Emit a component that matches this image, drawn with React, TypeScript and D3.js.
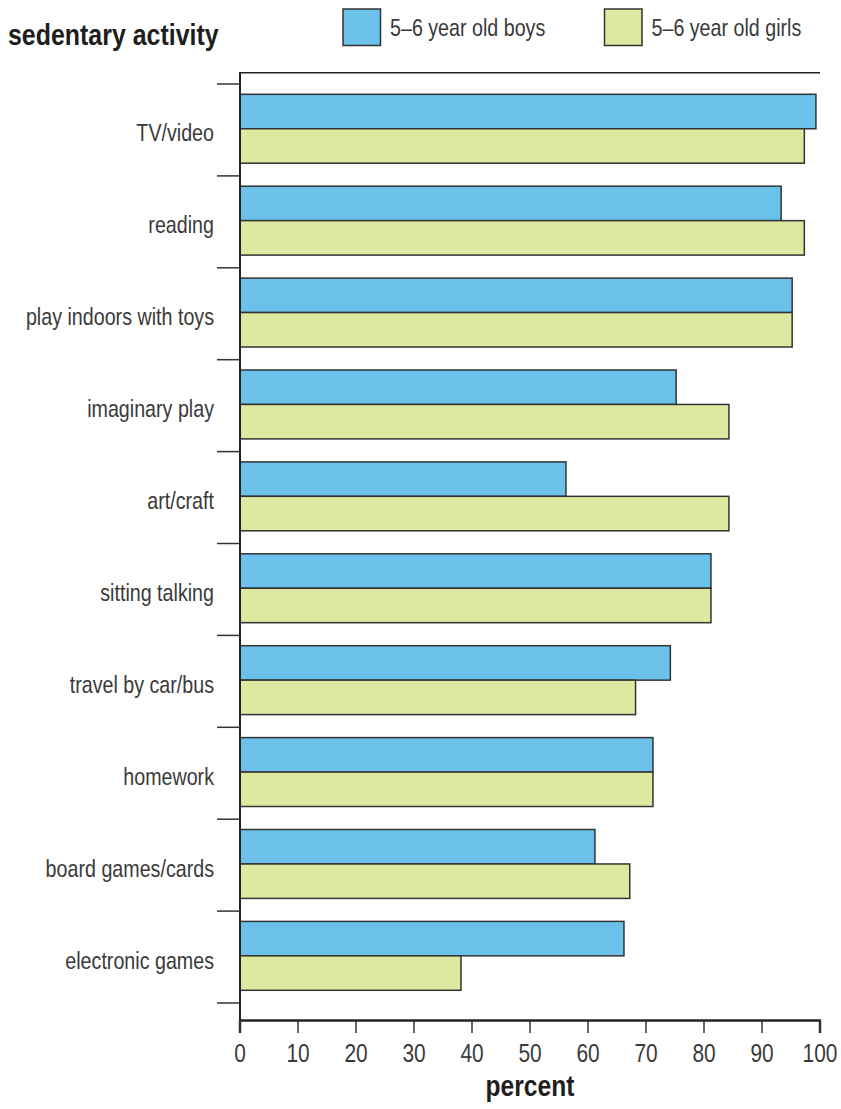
import React from "react";
import * as d3 from "d3";

const categories = [
  "TV/video",
  "reading",
  "play indoors with toys",
  "imaginary play",
  "art/craft",
  "sitting talking",
  "travel by car/bus",
  "homework",
  "board games/cards",
  "electronic games",
];
const boys = [99.3, 93.3, 95.2, 75.2, 56.2, 81.2, 74.2, 71.2, 61.2, 66.2];
const girls = [97.3, 97.3, 95.2, 84.3, 84.3, 81.2, 68.2, 71.2, 67.2, 38.1];
const seriesNames = ["5\u20136 year old boys", "5\u20136 year old girls"];
const seriesColors = ["#6bc1ea", "#dde8a1"];
const xTicks = [0, 10, 20, 30, 40, 50, 60, 70, 80, 90, 100];

const W = 841;
const H = 1109;
const X0 = 240;
const X1 = 820;
const TOP = 72.7;
const BOTTOM = 1020.5;
const sans = "'Liberation Sans', Arial, sans-serif";
const SQUEEZE = 0.82;

function NText(props: {
  x: number;
  y: number;
  size: number;
  anchor?: "start" | "middle" | "end";
  bold?: boolean;
  fill?: string;
  squeeze?: number;
  children: React.ReactNode;
}) {
  const s = props.squeeze ?? SQUEEZE;
  return (
    <text
      transform={`translate(${props.x},${props.y}) scale(${s},1)`}
      textAnchor={props.anchor ?? "start"}
      fontFamily={sans}
      fontWeight={props.bold ? "bold" : "normal"}
      fontSize={props.size}
      fill={props.fill ?? "#3a3a3a"}
    >
      {props.children}
    </text>
  );
}

export default function App() {
  const x = d3.scaleLinear().domain([0, 100]).range([X0, X1]);
  const y = d3.scaleBand<string>().domain(categories).range([84, 1003]).padding(0);
  const step = y.bandwidth();
  const inner = d3.scaleBand<string>().domain(["boys", "girls"]).range([10.3, 79.2]).padding(0);
  const series = [boys, girls];
  const keys = ["boys", "girls"];
  const boundaries = d3.range(categories.length + 1).map((i) => 84 + i * step);

  return (
    <svg width={W} height={H} style={{ position: "absolute", left: 0, top: 0, background: "#fff" }}>
      {/* title */}
      <NText x={8} y={45} size={29} bold squeeze={0.86} fill="#1e1e1e">
        sedentary activity
      </NText>
      {/* legend */}
      {seriesNames.map((n, i) => {
        const lx = i === 0 ? 343 : 604.5;
        return (
          <g key={n}>
            <rect x={lx} y={9} width={37.5} height={36.5} fill={seriesColors[i]} stroke="#333" strokeWidth={1.5} />
            <NText x={lx + 47} y={36} size={24}>
              {n}
            </NText>
          </g>
        );
      })}
      {/* bars */}
      {categories.map((c, ci) => (
        <g key={c}>
          {series.map((s, si) => (
            <rect
              key={si}
              x={x(0)}
              y={(y(c) as number) + (inner(keys[si]) as number)}
              width={x(s[ci]) - x(0)}
              height={inner.bandwidth()}
              fill={seriesColors[si]}
              stroke="#333"
              strokeWidth={1.5}
            />
          ))}
          <NText x={214} y={(y(c) as number) + step / 2 + 11.5} size={24} anchor="end">
            {c}
          </NText>
        </g>
      ))}
      {/* top frame line */}
      <line x1={X0} x2={X1} y1={TOP} y2={TOP} stroke="#222" strokeWidth={1.6} />
      {/* y axis */}
      <line x1={X0} x2={X0} y1={TOP - 0.8} y2={BOTTOM + 1} stroke="#222" strokeWidth={2} />
      {boundaries.map((b, i) => (
        <line key={i} x1={217} x2={X0} y1={b} y2={b} stroke="#333" strokeWidth={1.5} />
      ))}
      {/* x axis */}
      <line x1={X0 - 1} x2={X1 + 1} y1={BOTTOM} y2={BOTTOM} stroke="#222" strokeWidth={2.5} />
      {xTicks.map((t) => (
        <g key={t}>
          <line
            x1={x(t)}
            x2={x(t)}
            y1={BOTTOM}
            y2={1033}
            stroke="#333"
            strokeWidth={t === 0 || t === 100 ? 2.5 : 1.5}
          />
          <NText x={x(t)} y={1062} size={25.5} anchor="middle">
            {t}
          </NText>
        </g>
      ))}
      <NText x={530} y={1096} size={30} bold anchor="middle" squeeze={0.82} fill="#1e1e1e">
        percent
      </NText>
    </svg>
  );
}
